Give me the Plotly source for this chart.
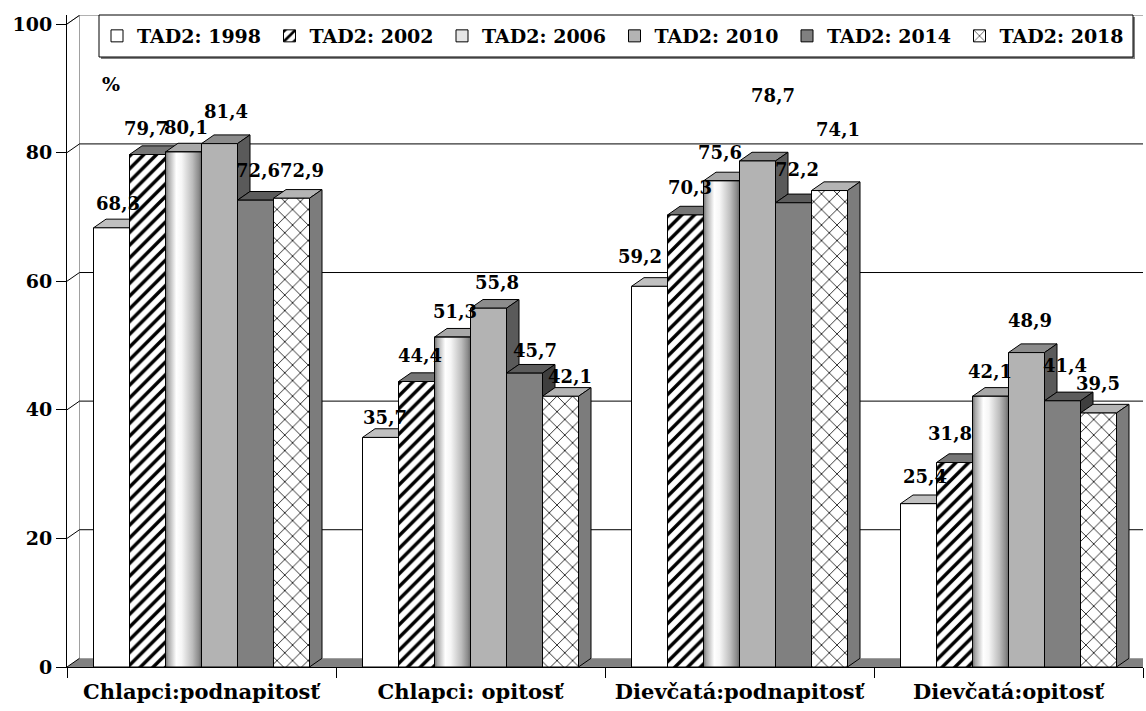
import plotly.graph_objects as go

# ---------------- data ----------------
categories = ["Chlapci:podnapitosť", "Chlapci: opitosť", "Dievčatá:podnapitosť", "Dievčatá:opitosť"]
series_names = ["TAD2: 1998", "TAD2: 2002", "TAD2: 2006", "TAD2: 2010", "TAD2: 2014", "TAD2: 2018"]
v1998 = [68.3, 35.7, 59.2, 25.4]
v2002 = [79.7, 44.4, 70.3, 31.8]
v2006 = [80.1, 51.3, 75.6, 42.1]
v2010 = [81.4, 55.8, 78.7, 48.9]
v2014 = [72.6, 45.7, 72.2, 41.4]
v2018 = [72.9, 42.1, 74.1, 39.5]
series_values = [v1998, v2002, v2006, v2010, v2014, v2018]
y_tick_vals = [0, 20, 40, 60, 80, 100]

# ---------------- styles ----------------
FONT = "DejaVu Serif"
front_colors = ["#ffffff", "#ffffff", "#e6e6e6", "#b3b3b3", "#808080", "#ffffff"]
pattern_shapes = ["", "/", "", "", "", "x"]
pattern_sizes = [8, 9, 8, 8, 8, 11]
pattern_solidity = [0.3, 0.38, 0.3, 0.3, 0.3, 0.14]
top_colors = ["#c0c0c0", "#767676", "#a8a8a8", "#8c8c8c", "#5c5c5c", "#b4b4b4"]
side_colors = ["#9a9a9a", "#555555", "#777777", "#5a5a5a", "#3e3e3e", "#7c7c7c"]
gradient_2006 = [[0, "#6e6e6e"], [0.08, "#a8a8a8"], [0.3, "#ffffff"], [0.45, "#f6f6f6"],
                 [0.75, "#bcbcbc"], [0.92, "#8c8c8c"], [1, "#6a6a6a"]]

# data-label nudges in pixels (horizontal shift from bar centre, rise of the label centre above the value)
label_dx_px = [[6.5, 4.5, -9.5, 6.5],
               [-1.5, 3.5, 4.5, -4.5],
               [2.5, 2.5, -1.5, -0.5],
               [6.5, 8.5, 15.5, 3.5],
               [2.5, 10.5, 3.5, 2.5],
               [10.5, 9.5, 8.5, -0.5]]
label_rise_px = [[22, 18, 28, 25],
                 [24.5, 24.5, 25, 27.5],
                 [22, 24, 26, 23],
                 [30.5, 24, 63, 30],
                 [28, 21, 31, 33],
                 [26, 18, 59, 28]]

W, H = 1146, 711
ML, MR, MT, MB = 67, 3, 15, 44
PW, PH = W - ML - MR, H - MT - MB

BARGAP = 0.197
NS = len(series_names)
NC = len(categories)
BW = (1 - BARGAP) / NS          # bar width in x units
DX = 0.0465                      # 3D depth offset (x units)
DY = 1.35                        # 3D depth offset (y units)
Y_MAX = 101.4
PX_PER_X = PW / NC
PX_PER_Y = PH / Y_MAX

def bar_center(k, i):
    return k - (1 - BARGAP) / 2 + (i + 0.5) * BW

def path(pts):
    return "M " + " L ".join(f"{x:.5f},{y:.4f}" for x, y in pts) + " Z"

def px_x(p):   # pixel -> paper x
    return (p - ML) / PW

def px_y(p):   # pixel -> paper y
    return (H - MB - p) / PH

fig = go.Figure()

# front faces: grouped bars, each series gets its own legend (to lay them out in one row)
LEG_FIRST = 97
LEG_STEP = 172.5
for i, (name, vals) in enumerate(zip(series_names, series_values)):
    marker = dict(color=front_colors[i], line=dict(color="black", width=1))
    if pattern_shapes[i]:
        marker["pattern"] = dict(shape=pattern_shapes[i], fgcolor="black", bgcolor="white",
                                 size=pattern_sizes[i], solidity=pattern_solidity[i])
    fig.add_trace(go.Bar(name=name, x=list(range(NC)), y=vals,
                         marker=marker, hoverinfo="skip",
                         legend="legend" if i == 0 else f"legend{i + 1}"))

# gradient overlay on the 2006 (cylinder-like) front faces
i6 = series_names.index("TAD2: 2006")
for k, v in enumerate(series_values[i6]):
    c = bar_center(k, i6)
    x0, x1 = c - BW / 2, c + BW / 2
    fig.add_trace(go.Scatter(x=[x0, x1, x1, x0, x0], y=[0, 0, v, v, 0], mode="lines",
                             fill="toself", line=dict(color="black", width=1),
                             fillgradient=dict(type="horizontal", colorscale=gradient_2006),
                             showlegend=False, hoverinfo="skip"))

# data labels
for i, vals in enumerate(series_values):
    fig.add_trace(go.Scatter(
        x=[bar_center(k, i) + label_dx_px[i][k] / PX_PER_X for k in range(NC)],
        y=[v + label_rise_px[i][k] / PX_PER_Y for k, v in enumerate(vals)],
        text=[f"{v:.1f}".replace(".", ",") for v in vals],
        mode="text", textposition="middle center",
        textfont=dict(family=FONT, size=18, color="black", weight="bold"),
        showlegend=False, hoverinfo="skip", cliponaxis=False))

# ---------------- 3D decoration shapes (below traces) ----------------
shapes = []
xl, xr = -0.5, NC - 0.5
shapes.append(dict(type="path", path=path([(xl, 0), (xl + DX, DY), (xr + DX, DY), (xr, 0)]),
                   fillcolor="#808080", line=dict(width=0), layer="below"))
shapes.append(dict(type="line", x0=xl + DX, x1=xl + DX, y0=DY, y1=100 + DY,
                   line=dict(color="#a0a0a0", width=1), layer="below"))
shapes.append(dict(type="line", x0=xl, x1=xl + DX, y0=100, y1=100 + DY,
                   line=dict(color="#a0a0a0", width=1), layer="below"))
shapes.append(dict(type="line", x0=xl + DX, x1=xr + DX, y0=100 + DY, y1=100 + DY,
                   line=dict(color="#a0a0a0", width=1), layer="below"))
for t in y_tick_vals[1:]:
    if t < 100:
        shapes.append(dict(type="line", x0=xl + DX, x1=xr + DX, y0=t + DY, y1=t + DY,
                           line=dict(color="black", width=1), layer="below"))
    shapes.append(dict(type="line", x0=xl, x1=xl + DX, y0=t, y1=t + DY,
                       line=dict(color="black", width=1), layer="below"))
shapes.append(dict(type="line", x0=xl, x1=xl + DX, y0=0, y1=DY,
                   line=dict(color="black", width=1), layer="below"))

for k in range(NC):
    for i in range(NS):
        v = series_values[i][k]
        c = bar_center(k, i)
        e0, e1 = c - BW / 2, c + BW / 2
        shapes.append(dict(type="path",
                           path=path([(e0, v), (e0 + DX, v + DY), (e1 + DX, v + DY), (e1, v)]),
                           fillcolor=top_colors[i], line=dict(color="black", width=1),
                           layer="below"))
        v_next = series_values[i + 1][k] if i + 1 < NS else 0
        if v > v_next:
            base = max(v_next, 0)
            shapes.append(dict(type="path",
                               path=path([(e1, base), (e1 + DX, base + DY),
                                          (e1 + DX, v + DY), (e1, v)]),
                               fillcolor=side_colors[i], line=dict(color="black", width=1),
                               layer="below"))

# legend frame (with a small shadow)
LB = dict(x0=99, x1=1133, y0=15, y1=57)
shapes.append(dict(type="rect", xref="paper", yref="paper",
                   x0=px_x(LB["x0"] + 2), x1=px_x(LB["x1"] + 2),
                   y0=px_y(LB["y1"] + 2), y1=px_y(LB["y0"] + 2),
                   fillcolor="#808080", line=dict(width=0), layer="above"))
shapes.append(dict(type="rect", xref="paper", yref="paper",
                   x0=px_x(LB["x0"]), x1=px_x(LB["x1"]),
                   y0=px_y(LB["y1"]), y1=px_y(LB["y0"]),
                   fillcolor="white", line=dict(color="black", width=1), layer="above"))

legend_common = dict(orientation="h", yanchor="middle", xanchor="left",
                     bgcolor="rgba(0,0,0,0)", borderwidth=0,
                     font=dict(family=FONT, size=19, color="black", weight="bold"))
legend_layout = {}
for i in range(NS):
    key = "legend" if i == 0 else f"legend{i + 1}"
    legend_layout[key] = dict(legend_common, x=px_x(LEG_FIRST + i * LEG_STEP), y=px_y(36))

fig.update_layout(
    template="none",
    width=W, height=H,
    margin=dict(l=ML, r=MR, t=MT, b=MB),
    paper_bgcolor="white", plot_bgcolor="white",
    barmode="group", bargap=BARGAP, bargroupgap=0,
    shapes=shapes,
    showlegend=True,
    xaxis=dict(range=[xl, xr], tickmode="array", tickvals=list(range(NC)),
               ticktext=categories, ticks="", showgrid=False, zeroline=False,
               showline=True, linecolor="black", linewidth=1,
               tickfont=dict(family=FONT, size=21, color="black", weight="bold"),
               ticklabelstandoff=6,
               minor=dict(tickmode="linear", tick0=-0.5, dtick=1, ticks="outside",
                          ticklen=10, tickcolor="black", tickwidth=1, showgrid=False),
               automargin=False, fixedrange=True),
    yaxis=dict(range=[0, Y_MAX], tickmode="array", tickvals=y_tick_vals,
               ticks="outside", ticklen=10, tickcolor="black", tickwidth=1,
               showgrid=False, zeroline=False, showline=True, linecolor="black", linewidth=1,
               tickfont=dict(family=FONT, size=19, color="black", weight="bold"),
               automargin=False, fixedrange=True),
    annotations=[dict(text="%", xref="paper", yref="paper", x=px_x(100), y=px_y(84),
                      xanchor="left", yanchor="middle", showarrow=False,
                      font=dict(family=FONT, size=19, color="black", weight="bold"))],
    **legend_layout,
)

fig.write_html("out.html", config={"displayModeBar": False},
               post_script="document.body.style.margin='0px';")
